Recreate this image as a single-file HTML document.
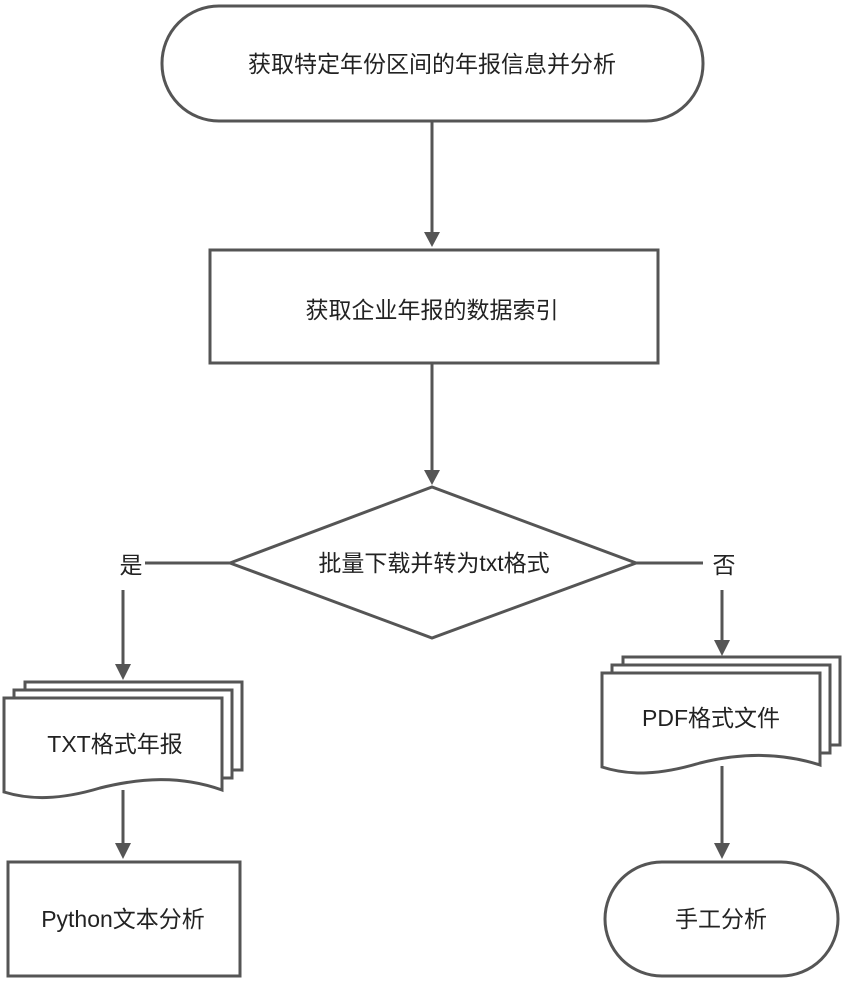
<!DOCTYPE html>
<html><head><meta charset="utf-8"><style>
html,body{margin:0;padding:0;background:#fff;}
svg{display:block;}
text{font-family:"Liberation Sans","Noto Sans CJK SC",sans-serif;fill:#222;}
</style></head><body>
<svg width="848" height="984" viewBox="0 0 848 984" xmlns="http://www.w3.org/2000/svg">
<defs><marker id="a" markerWidth="10" markerHeight="10" refX="5" refY="9" orient="auto" markerUnits="userSpaceOnUse"><path d="M0,0 L10,0 L5,14 z" fill="#555"/></marker></defs>
<g stroke="#555" stroke-width="3" fill="#fff">
<rect x="162" y="6" width="541" height="115" rx="57" ry="57"/>
<line x1="432" y1="121" x2="432" y2="232" fill="none"/>
<path d="M424,232 L440,232 L432,247 z" fill="#555" stroke="none"/>
<rect x="210" y="250" width="448" height="113"/>
<line x1="432" y1="363" x2="432" y2="472"/>
<path d="M424,470 L440,470 L432,485 z" fill="#555" stroke="none"/>
<polygon points="230,563 432,487 636,563 432,638"/>
<line x1="230" y1="563" x2="145" y2="563"/>
<line x1="123" y1="590" x2="123" y2="666"/>
<path d="M115,664 L131,664 L123,680 z" fill="#555" stroke="none"/>
<line x1="636" y1="563" x2="703" y2="563"/>
<line x1="722" y1="590" x2="722" y2="642"/>
<path d="M714,640 L730,640 L722,656 z" fill="#555" stroke="none"/>
<!-- left doc -->
<path d="M25,682 L242,682 L242,770 L25,770 z"/>
<path d="M14,690 L232,690 L232,778 L14,778 z"/>
<path d="M4,698 L222,698 L222,790 C180,775 140,778 100,788 C60,800 30,800 4,792 z"/>
<line x1="123" y1="790" x2="123" y2="845"/>
<path d="M115,843 L131,843 L123,859 z" fill="#555" stroke="none"/>
<rect x="8" y="862" width="232" height="114"/>
<!-- right doc -->
<path d="M623,657 L840,657 L840,745 L623,745 z"/>
<path d="M612,665 L830,665 L830,753 L612,753 z"/>
<path d="M602,673 L820,673 L820,765 C780,752 740,753 700,763 C660,775 630,776 602,767 z"/>
<line x1="722" y1="766" x2="722" y2="845"/>
<path d="M714,843 L730,843 L722,859 z" fill="#555" stroke="none"/>
<rect x="605" y="862" width="233" height="114" rx="57" ry="57"/>
</g>
<g font-size="23" text-anchor="middle" dominant-baseline="central">
<text x="432" y="64">获取特定年份区间的年报信息并分析</text>
<text x="432" y="310">获取企业年报的数据索引</text>
<text x="434" y="563">批量下载并转为txt格式</text>
<text x="131" y="565">是</text>
<text x="724" y="565">否</text>
<text x="115" y="744">TXT格式年报</text>
<text x="711" y="718">PDF格式文件</text>
<text x="123" y="919">Python文本分析</text>
<text x="721" y="919">手工分析</text>
</g>
</svg>
</body></html>
